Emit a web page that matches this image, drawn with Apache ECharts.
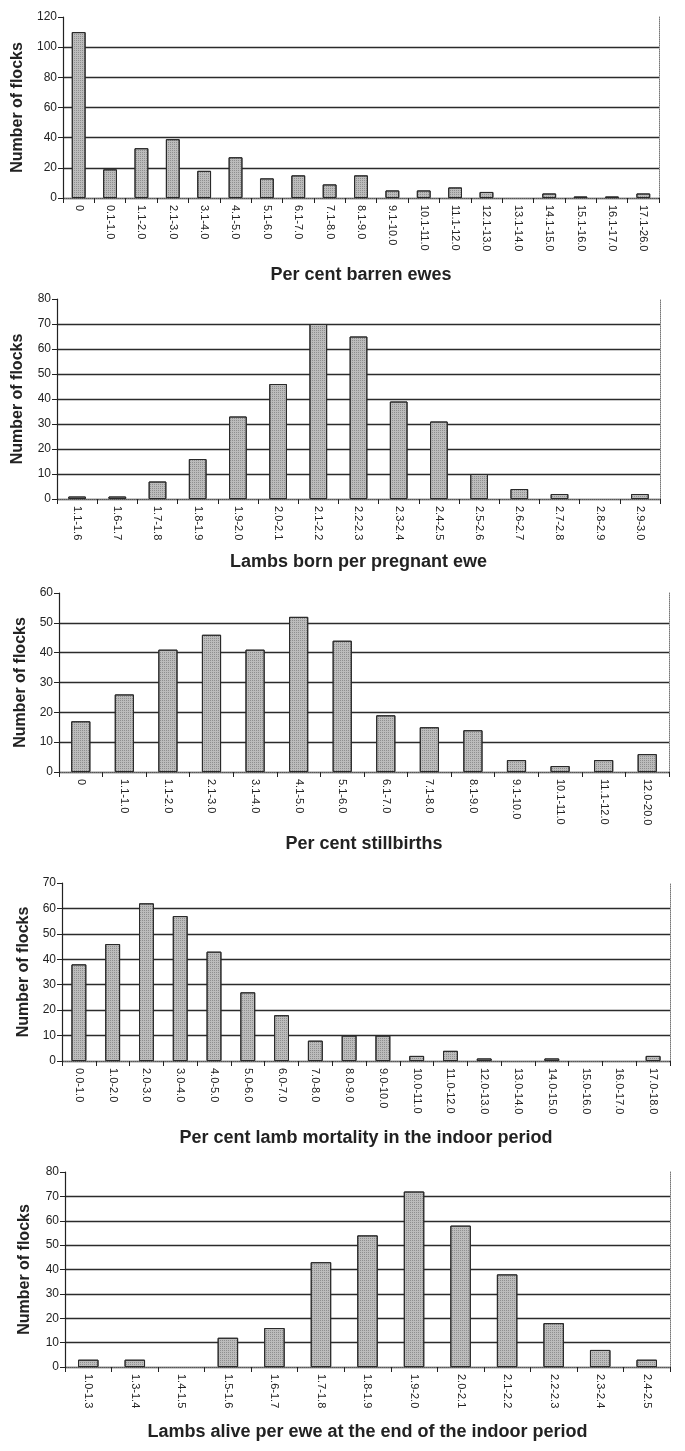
<!DOCTYPE html>
<html>
<head>
<meta charset="utf-8">
<script src="https://cdn.jsdelivr.net/npm/echarts@6/dist/echarts.min.js"></script>
<style>
html,body{margin:0;padding:0;background:#fff;}
#c{width:685px;height:1451px;}
</style>
</head>
<body>
<div id="c"></div>
<script>
// ---- data ----
const cats1 = ['0','0.1-1.0','1.1-2.0','2.1-3.0','3.1-4.0','4.1-5.0','5.1-6.0','6.1-7.0','7.1-8.0','8.1-9.0','9.1-10.0','10.1-11.0','11.1-12.0','12.1-13.0','13.1-14.0','14.1-15.0','15.1-16.0','16.1-17.0','17.1-26.0'];
const vals1 = [110,19,33,39,18,27,13,15,9,15,5,5,7,4,0,3,1,1,3];
const title1 = 'Per cent barren ewes';

const cats2 = ['1.1-1.6','1.6-1.7','1.7-1.8','1.8-1.9','1.9-2.0','2.0-2.1','2.1-2.2','2.2-2.3','2.3-2.4','2.4-2.5','2.5-2.6','2.6-2.7','2.7-2.8','2.8-2.9','2.9-3.0'];
const vals2 = [1,1,7,16,33,46,70,65,39,31,10,4,2,0,2];
const title2 = 'Lambs born per pregnant ewe';

const cats3 = ['0','1.1-1.0','1.1-2.0','2.1-3.0','3.1-4.0','4.1-5.0','5.1-6.0','6.1-7.0','7.1-8.0','8.1-9.0','9.1-10.0','10.1-11.0','11.1-12.0','12.0-20.0'];
const vals3 = [17,26,41,46,41,52,44,19,15,14,4,2,4,6];
const title3 = 'Per cent stillbirths';

const cats4 = ['0.0-1.0','1.0-2.0','2.0-3.0','3.0-4.0','4.0-5.0','5.0-6.0','6.0-7.0','7.0-8.0','8.0-9.0','9.0-10.0','10.0-11.0','11.0-12.0','12.0-13.0','13.0-14.0','14.0-15.0','15.0-16.0','16.0-17.0','17.0-18.0'];
const vals4 = [38,46,62,57,43,27,18,8,10,10,2,4,1,0,1,0,0,2];
const title4 = 'Per cent lamb mortality in the indoor period';

const cats5 = ['1.0-1.3','1.3-1.4','1.4-1.5','1.5-1.6','1.6-1.7','1.7-1.8','1.8-1.9','1.9-2.0','2.0-2.1','2.1-2.2','2.2-2.3','2.3-2.4','2.4-2.5'];
const vals5 = [3,3,0,12,16,43,54,72,58,38,18,7,3];
const title5 = 'Lambs alive per ewe at the end of the indoor period';

const yTitle = 'Number of flocks';
const yMax = [120, 80, 60, 70, 80];
const yStep = [20, 10, 10, 10, 10];

// ---- layout (pixels) ----
const panels = [
  {cats: cats1, vals: vals1, title: title1, left: 63, right: 26, top: 17, height: 181, xGap: 68, yGap: 35},
  {cats: cats2, vals: vals2, title: title2, left: 57, right: 25, top: 299, height: 200, xGap: 54, yGap: 31},
  {cats: cats3, vals: vals3, title: title3, left: 59, right: 16, top: 593, height: 179, xGap: 63, yGap: 26},
  {cats: cats4, vals: vals4, title: title4, left: 62, right: 15, top: 883, height: 178, xGap: 68, yGap: 29},
  {cats: cats5, vals: vals5, title: title5, left: 65, right: 15, top: 1172, height: 195, xGap: 56, yGap: 32}
];

const FONT = 'Liberation Sans, Arial, sans-serif';
const grid = [], xAxis = [], yAxis = [], series = [];
panels.forEach((p, i) => {
  grid.push({left: p.left, right: p.right, top: p.top, height: p.height, containLabel: false});
  const nLines = yMax[i] / yStep[i] + 1;
  const splitColors = [];
  for (let k = 0; k < nLines; k++) splitColors.push(k === nLines - 1 ? 'rgba(0,0,0,0)' : '#2b2b2b');
  xAxis.push({
    type: 'category', gridIndex: i, data: p.cats, position: 'bottom',
    axisLine: {lineStyle: {color: '#222', width: 1.2}},
    axisTick: {show: true, length: 5, lineStyle: {color: '#222'}},
    axisLabel: {rotate: -90, fontSize: 11, color: '#222', fontFamily: FONT, margin: 7, interval: 0},
    name: p.title, nameLocation: 'middle', nameGap: p.xGap,
    nameTextStyle: {fontSize: 18, fontWeight: 'bold', color: '#222', fontFamily: FONT}
  });
  xAxis.push({
    type: 'category', gridIndex: i, data: p.cats, position: 'top',
    axisLine: {lineStyle: {color: '#777', type: 'dotted', width: 1}},
    axisTick: {show: false}, axisLabel: {show: false}
  });
  yAxis.push({
    type: 'value', gridIndex: i, min: 0, max: yMax[i], interval: yStep[i], position: 'left',
    axisLine: {show: true, lineStyle: {color: '#222', width: 1.2}},
    axisTick: {show: true, length: 5, lineStyle: {color: '#222'}},
    axisLabel: {fontSize: 12, color: '#222', fontFamily: FONT, margin: 6},
    splitLine: {show: true, lineStyle: {color: splitColors, width: 1.3}},
    name: yTitle, nameLocation: 'middle', nameGap: p.yGap, nameRotate: 90,
    nameTextStyle: {fontSize: 16, fontWeight: 'bold', color: '#222', fontFamily: FONT}
  });
  yAxis.push({
    type: 'value', gridIndex: i, min: 0, max: yMax[i], interval: yStep[i], position: 'right',
    axisLine: {show: true, lineStyle: {color: '#777', type: 'dotted', width: 1}},
    axisTick: {show: false}, axisLabel: {show: false}, splitLine: {show: false}
  });
  series.push({
    type: 'bar', xAxisIndex: i * 2, yAxisIndex: i * 2,
    data: p.vals.map(v => v === 0 ? {value: v, itemStyle: {borderWidth: 0}} : v),
    barCategoryGap: '56%',
    itemStyle: {
      color: '#bcbcbc', borderColor: '#2a2a2a', borderWidth: 1,
      decal: {symbol: 'rect', symbolSize: 1, dashArrayX: [1, 1], dashArrayY: [1, 1], color: 'rgba(60,60,60,0.35)', rotation: 0}
    },
    silent: true
  });
});

const chart = echarts.init(document.getElementById('c'), null, {renderer: 'canvas'});
chart.setOption({
  animation: false,
  backgroundColor: '#ffffff',
  aria: {enabled: false},
  grid, xAxis, yAxis, series
});
</script>
</body>
</html>
